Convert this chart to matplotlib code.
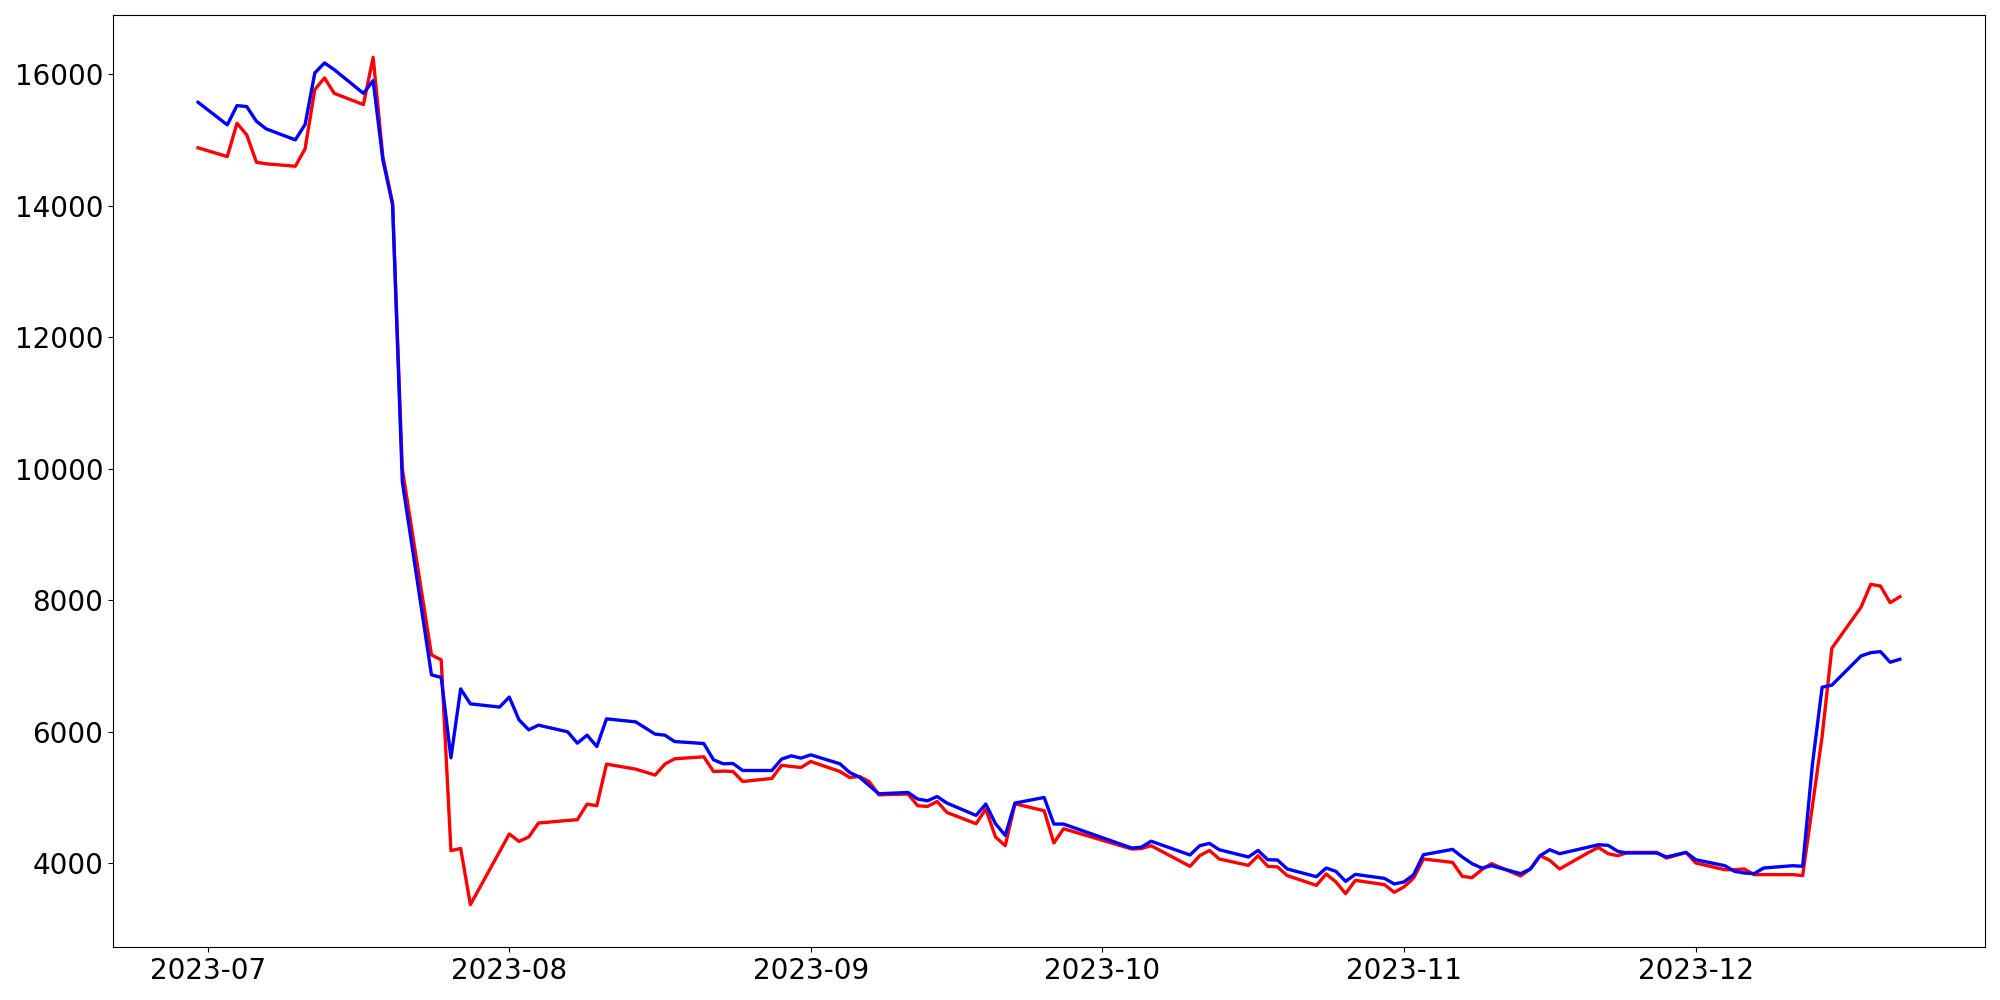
import numpy as np
import pandas as pd
import matplotlib
matplotlib.use('Agg')
import matplotlib.pyplot as plt
import matplotlib.dates as mdates


# trading days (weekdays minus market holidays)
holidays = ['2023-08-15', '2023-09-28', '2023-09-29', '2023-10-02', '2023-10-03', '2023-10-09']
dates = pd.bdate_range('2023-06-30', '2023-12-22')
dates = dates[~dates.isin(pd.to_datetime(holidays))]

red_values = [
    14877,
    14744, 15250, 15074, 14658, 14634, 14597, 14861, 15762, 15939, 15705,
    15534, 16252, 14740, 14034, 9996, 7169, 7093, 4193, 4228, 3373, 4178,
    4447, 4334, 4401, 4613, 4653, 4664, 4902, 4876, 5509, 5433, 5342, 5509, 5590,
    5620, 5397, 5403, 5397, 5245, 5291, 5491, 5473, 5458,
    5549, 5397, 5306, 5321, 5245, 5043, 5054, 4876, 4866, 4941, 4774,
    4603, 4826, 4401, 4269, 4906, 4800, 4310, 4527,
    4219, 4225, 4269, 3955, 4117, 4197, 4067, 3970, 4117, 3955, 3946, 3814,
    3666, 3839, 3718, 3540, 3742, 3677, 3560,
    3642, 3778, 4067, 4015, 3803, 3783, 3904, 3996, 3809, 3915, 4117, 4046, 3915,
    4167, 4243, 4147, 4117, 4167, 4167, 4082, 4122, 4167,
    4006, 3904, 3904, 3915, 3829, 3829, 3829, 3814, 4870, 5928, 7270,
    7893, 8242, 8216, 7963, 8054,
]

blue_values = [
    15569,
    15226, 15519, 15504, 15280, 15165, 14998, 15230, 16015, 16167, 16065,
    15705, 15898, 14693, 14014, 9803, 6865, 6827, 5605, 6652, 6425, 6376,
    6528, 6182, 6030, 6101, 6000, 5828, 5949, 5776, 6197, 6151, 5965, 5949, 5852,
    5822, 5575, 5514, 5519, 5412, 5412, 5585, 5635, 5600,
    5650, 5514, 5382, 5312, 5184, 5058, 5078, 4978, 4952, 5017, 4917,
    4729, 4902, 4603, 4425, 4917, 5002, 4598, 4598,
    4234, 4246, 4337, 4128, 4269, 4304, 4208, 4097, 4197, 4056, 4051, 3915,
    3798, 3930, 3879, 3727, 3833, 3772, 3687,
    3718, 3829, 4132, 4213, 4097, 3996, 3930, 3965, 3844, 3915, 4117, 4208, 4147,
    4249, 4284, 4274, 4182, 4158, 4158, 4097, 4132, 4167,
    4056, 3965, 3879, 3854, 3844, 3930, 3965, 3955, 5499, 6678, 6709,
    7153, 7203, 7219, 7058, 7103,
]

fig, ax = plt.subplots(figsize=(20, 10), dpi=100)
fig.subplots_adjust(left=0.0565, right=0.9925, top=0.985, bottom=0.053)

ax.plot(dates, red_values, color='red', linewidth=2.4)
ax.plot(dates, blue_values, color='blue', linewidth=2.4)

ax.xaxis.set_major_locator(mdates.MonthLocator())
ax.xaxis.set_major_formatter(mdates.DateFormatter('%Y-%m'))
ax.tick_params(axis='both', labelsize=20)

plt.savefig('out.png')
